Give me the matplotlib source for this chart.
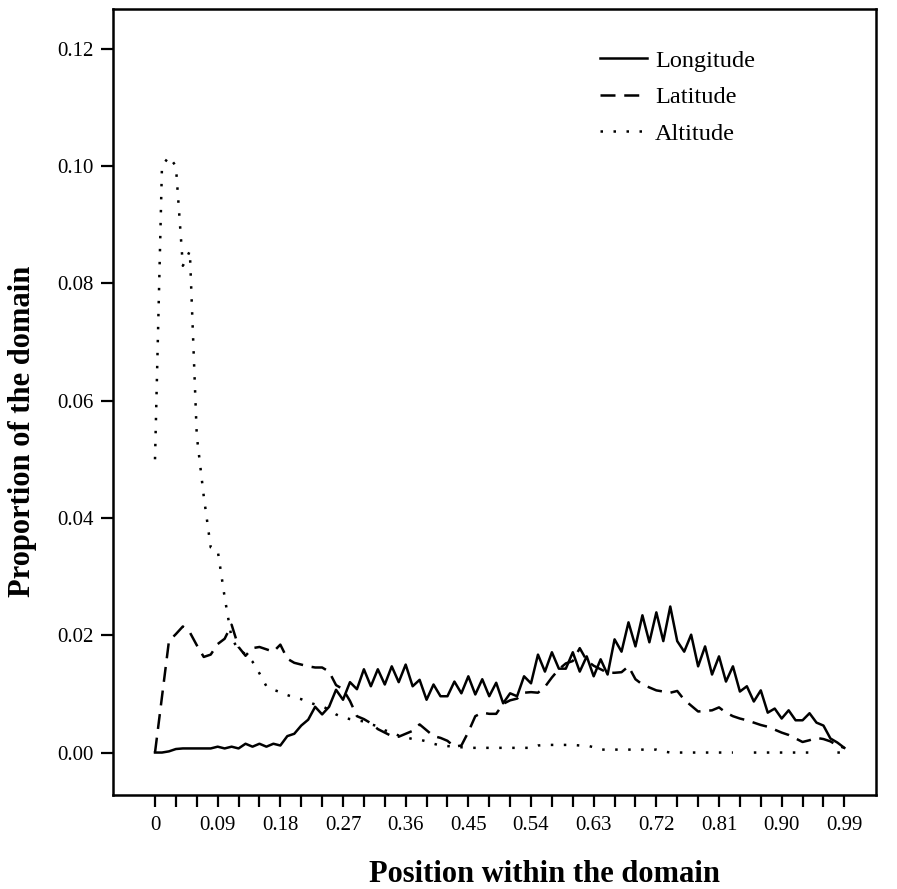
import numpy as np
import matplotlib
matplotlib.use("Agg")
import matplotlib.pyplot as plt

# position within the domain, 0.00 .. 0.99
position = np.arange(100) / 100

longitude = [
    0.0, 0.0, 0.0002, 0.0006, 0.0007, 0.0007, 0.0007, 0.0007, 0.0007, 0.001,
    0.0007, 0.001, 0.0007, 0.0015, 0.001, 0.0015, 0.001, 0.0015, 0.0012, 0.0028,
    0.0032, 0.0046, 0.0056, 0.0078, 0.0065, 0.0078, 0.0107, 0.009, 0.012, 0.0108,
    0.0142, 0.0113, 0.0142, 0.0116, 0.0147, 0.012, 0.015, 0.0113, 0.0124, 0.009,
    0.0116, 0.0096, 0.0096, 0.0121, 0.0101, 0.013, 0.0099, 0.0125, 0.0096, 0.0119,
    0.0084, 0.0101, 0.0096, 0.013, 0.0118, 0.0167, 0.0138, 0.0171, 0.0143, 0.0143,
    0.0171, 0.0138, 0.0164, 0.013, 0.0159, 0.0133, 0.0193, 0.0172, 0.0222, 0.0181,
    0.0234, 0.0188, 0.0239, 0.019, 0.0249, 0.019, 0.0172, 0.0201, 0.0147, 0.0181,
    0.0133, 0.0164, 0.0121, 0.0147, 0.0104, 0.0113, 0.0087, 0.0106, 0.0068, 0.0075,
    0.0058, 0.0072, 0.0055, 0.0055, 0.0067, 0.0051, 0.0046, 0.0024, 0.0017, 0.0008,
]

latitude = [
    0.0, 0.0095, 0.019, 0.0202, 0.0215, 0.0205, 0.0183, 0.0163, 0.0167, 0.0185,
    0.0194, 0.0218, 0.018, 0.0165, 0.0178, 0.018, 0.0176, 0.0172, 0.0184, 0.016,
    0.0153, 0.015, 0.0147, 0.0145, 0.0145, 0.0138, 0.0115, 0.0108, 0.0088, 0.0062,
    0.0057, 0.005, 0.004, 0.0034, 0.0028, 0.0027, 0.0032, 0.0037, 0.0048, 0.0038,
    0.0028, 0.0025, 0.002, 0.001, 0.0012, 0.0035, 0.0062, 0.0068, 0.0066, 0.0066,
    0.0083, 0.0089, 0.0092, 0.0102, 0.0103, 0.0102, 0.0112, 0.0128, 0.0142, 0.0152,
    0.0156, 0.0178, 0.0157, 0.0148, 0.0142, 0.0136, 0.0136, 0.0137, 0.0147, 0.0125,
    0.0116, 0.0111, 0.0106, 0.0104, 0.0102, 0.0105, 0.009, 0.008, 0.007, 0.0071,
    0.0072, 0.0077, 0.0068, 0.0062, 0.0058, 0.0055, 0.0051, 0.0047, 0.0044, 0.0039,
    0.0034, 0.003, 0.0024, 0.0018, 0.0021, 0.0025, 0.0023, 0.0019, 0.0012, 0.0008,
]

nan = np.nan
altitude = [
    0.050, 0.100, 0.1016, 0.100, 0.083, 0.0855, 0.054, 0.0437, 0.035, 0.0345,
    0.0265, 0.0195, 0.0175, 0.0168, 0.0155, 0.0135, 0.0113, 0.0107, 0.0103, 0.0098,
    0.0094, 0.0091, 0.0086, 0.0082, 0.0079, 0.0073, 0.0065, 0.006, 0.0057, 0.0055,
    0.0053, 0.0048, 0.0045, 0.0038, 0.0034, 0.0029, 0.0026, 0.0023, 0.0022, 0.0019,
    0.0015, 0.0012, 0.0011, 0.001, 0.0009, 0.0008, 0.0008, 0.0008, 0.0008, 0.0008,
    0.0008, 0.0008, 0.0008, 0.0008, 0.0008, 0.0012, 0.0013, 0.0013, 0.0013, 0.0013,
    0.0013, 0.0012, 0.0012, 0.0009, 0.0005, 0.0005, 0.0005, 0.0005, 0.0005, 0.0005,
    0.0005, 0.0005, 0.0005, 0.0002, 0.0, 0.0, 0.0, 0.0, 0.0, 0.0,
    0.0, 0.0, 0.0, 0.0, nan, nan, 0.0, 0.0, 0.0, 0.0,
    0.0, 0.0, 0.0, 0.0, 0.0, nan, nan, nan, 0.0, 0.0,
]

tick_pos = np.arange(0, 100, 3) / 100
tick_labels = ["0", "0.09", "0.18", "0.27", "0.36", "0.45", "0.54",
               "0.63", "0.72", "0.81", "0.90", "0.99"]
y_ticks = [0.0, 0.02, 0.04, 0.06, 0.08, 0.10, 0.12]

plt.rcParams["font.family"] = ["Liberation Serif", "DejaVu Serif"]

fig = plt.figure(figsize=(8.97, 8.89), dpi=100)
ax = fig.add_axes([0.126, 0.106, 0.851, 0.884])

lw = 1.8
ax.plot(position, longitude, color="black", lw=lw, ls="-", label="Longitude")
ax.plot(position, latitude, color="black", lw=lw, ls=(0, (6, 3.5)), label="Latitude")
ax.plot(position, altitude, color="black", lw=lw, ls=(0, (1, 4.2)), label="Altitude")

ax.set_xlim(-0.0603, 1.036)
ax.set_ylim(-0.0072, 0.1268)

# a tick every 0.03, a label on every third one
xlabels = [""] * len(tick_pos)
xlabels[::3] = tick_labels
ax.set_xticks(tick_pos)
ax.set_xticklabels(xlabels)
ax.tick_params(axis="x", length=8.5, width=1.6, direction="out", labelsize=15, pad=7)

ax.set_yticks(y_ticks)
ax.set_yticklabels([f"{v:.2f}" for v in y_ticks])
ax.tick_params(axis="y", length=9, width=1.6, direction="out", labelsize=15, pad=5)

for sp in ax.spines.values():
    sp.set_linewidth(1.8)

ax.legend(loc="upper left", bbox_to_anchor=(0.638, 0.948), frameon=False,
          fontsize=17.5, handlelength=1.93, handletextpad=0.33,
          labelspacing=0.6, borderpad=0, borderaxespad=0)

fig.text(544 / 897, 1 - 874 / 889, "Position within the domain",
         ha="center", va="center", fontsize=22, fontweight="bold")
fig.text(23 / 897, 1 - 431 / 889, "Proportion of the domain",
         ha="center", va="center", rotation=90, fontsize=22, fontweight="bold")

fig.savefig("out.png", dpi=100)
